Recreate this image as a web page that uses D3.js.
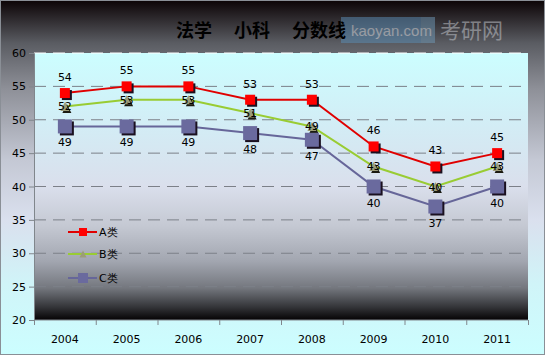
<!DOCTYPE html>
<html>
<head>
<meta charset="utf-8">
<script src="https://cdn.jsdelivr.net/npm/d3@7"></script>
<style>
  body { margin: 0; padding: 0; }
  svg { display: block; }
  text { font-family: "DejaVu Sans", Arial, sans-serif; }
</style>
</head>
<body>
<div class="chart"></div>
<script>
// data
let years = ['2004', '2005', '2006', '2007', '2008', '2009', '2010', '2011']
let seriesA = [54, 55, 55, 53, 53, 46, 43, 45]
let seriesB = [52, 53, 53, 51, 49, 43, 40, 43]
let seriesC = [49, 49, 49, 48, 47, 40, 37, 40]
let seriesNames = ['A类', 'B类', 'C类']
let yTicks = [20, 25, 30, 35, 40, 45, 50, 55, 60]

var W = 545, H = 355
var margin = { top: 53, right: 17, bottom: 35, left: 34 }
var width = W - margin.left - margin.right
var height = H - margin.top - margin.bottom

let root = d3.select('.chart')
    .append('svg')
    .attr('width', W)
    .attr('height', H)

let defs = root.append('defs')

// outer background: dark at top, light cyan at bottom
let bg = defs.append('linearGradient').attr('id', 'bgGrad')
    .attr('x1', 0).attr('y1', 0).attr('x2', 0).attr('y2', 1)
;[[0, '#0c0406'], [0.12, '#5a5c62'], [0.25, '#8e9098'], [0.45, '#c4c8d4'],
  [0.62, '#dae0ee'], [0.8, '#d0f4f8'], [1, '#ccfeff']].forEach(s => {
    bg.append('stop').attr('offset', s[0]).attr('stop-color', s[1])
})

// plot area: light cyan at top, black at bottom
let pg = defs.append('linearGradient').attr('id', 'plotGrad')
    .attr('x1', 0).attr('y1', 0).attr('x2', 0).attr('y2', 1)
;[[0, '#ccfeff'], [0.25, '#d2eef6'], [0.5, '#dadfec'], [0.65, '#c4c8d2'],
  [0.78, '#a2a6b0'], [0.88, '#74777e'], [0.95, '#35363a'], [1, '#050304']].forEach(s => {
    pg.append('stop').attr('offset', s[0]).attr('stop-color', s[1])
})

root.append('rect')
    .attr('x', 0.5).attr('y', 0.5)
    .attr('width', W - 1).attr('height', H - 1)
    .attr('fill', 'url(#bgGrad)')
    .attr('stroke', '#8a8f96')

// watermark (drawn under the title, as in the picture)
let wm = root.append('g').attr('opacity', 0.5)
wm.append('rect').attr('x', 341).attr('y', 17).attr('width', 80).attr('height', 26).attr('fill', '#5b8fb8')
wm.append('rect').attr('x', 421).attr('y', 17).attr('width', 14).attr('height', 26).attr('fill', '#6f9ab8')
wm.append('text').attr('x', 351).attr('y', 36)
    .style('font-family', 'Arial, "Liberation Sans", sans-serif')
    .style('font-size', '15px').attr('fill', '#e8f0f8')
    .text('kaoyan.com')
wm.append('text').attr('x', 440).attr('y', 38)
    .style('font-family', '"Noto Sans CJK SC", sans-serif')
    .style('font-size', '21px').attr('fill', '#c8ccd2')
    .text('考研网')

// title
root.append('text')
    .attr('x', 261).attr('y', 37)
    .attr('text-anchor', 'middle')
    .attr('xml:space', 'preserve')
    .style('font-family', '"Noto Sans CJK SC", sans-serif')
    .style('font-size', '18px')
    .style('font-weight', 'bold')
    .attr('fill', '#000')
    .text('法学　 小科　 分数线')

let svg = root.append('g')
    .attr('transform', `translate(${margin.left},${margin.top})`)

svg.append('rect')
    .attr('width', width).attr('height', height)
    .attr('fill', 'url(#plotGrad)')

var yScale = d3.scaleLinear()
    .domain([20, 60])
    .range([height, 0])

var xScale = d3.scaleBand()
    .domain(years)
    .range([0, width])

// dashed grid lines
svg.selectAll('.grid')
    .data(yTicks.filter(d => d > 20))
    .enter()
    .append('line')
    .attr('x1', 0).attr('x2', width)
    .attr('y1', d => yScale(d)).attr('y2', d => yScale(d))
    .attr('stroke', d => d === 60 ? '#ffffff' : '#7c8088')
    .attr('stroke-width', 1)
    .attr('stroke-dasharray', '12,7')

// y axis
let yAxis = d3.axisLeft(yScale).tickValues(yTicks).tickSize(5).tickPadding(3)
let gy = svg.append('g').call(yAxis)
gy.select('.domain').attr('stroke', '#80868c')
gy.selectAll('line').attr('stroke', '#80868c')
gy.selectAll('text').style('font-size', '11px').attr('fill', '#000')

// x axis with ticks at band boundaries
let gx = svg.append('g').attr('transform', `translate(0,${height})`)
gx.append('line').attr('x1', 0).attr('x2', width).attr('stroke', '#80868c')
gx.selectAll('.tk')
    .data(years.concat(['end']))
    .enter()
    .append('line')
    .attr('x1', (d, i) => i * xScale.bandwidth() + 0.5)
    .attr('x2', (d, i) => i * xScale.bandwidth() + 0.5)
    .attr('y1', 0).attr('y2', 5)
    .attr('stroke', '#80868c')
gx.selectAll('.lbl')
    .data(years)
    .enter()
    .append('text')
    .attr('x', d => xScale(d) + xScale.bandwidth() / 2)
    .attr('y', 23)
    .attr('text-anchor', 'middle')
    .style('font-size', '11px')
    .attr('fill', '#000')
    .text(d => d)

let cx = d => xScale(d) + xScale.bandwidth() / 2

let series = [
    { name: seriesNames[0], values: seriesA, color: '#e00000', marker: 'square', size: 10, fill: '#ff0000', label: -12 },
    { name: seriesNames[1], values: seriesB, color: '#99cc33', marker: 'triangle', size: 9, fill: '#9c9c78', label: 4 },
    { name: seriesNames[2], values: seriesC, color: '#666699', marker: 'square', size: 14, fill: '#6a6a9e', label: 20 }
]

let line = d3.line()
    .x((d, i) => cx(years[i]))
    .y(d => yScale(d))

function drawMarker(g, s, x, y) {
    let h = s.size / 2
    if (s.marker === 'square') {
        g.append('rect').attr('x', x - h + 2).attr('y', y - h + 2)
            .attr('width', s.size).attr('height', s.size).attr('fill', '#1a1020')
        g.append('rect').attr('x', x - h).attr('y', y - h)
            .attr('width', s.size).attr('height', s.size).attr('fill', s.fill)
    } else {
        let tri = (ox, oy) => `M${x + ox},${y - h + oy}L${x + h + ox},${y + h + oy}L${x - h + ox},${y + h + oy}Z`
        g.append('path').attr('d', tri(2, 2)).attr('fill', '#1a1a10')
        g.append('path').attr('d', tri(0, 0)).attr('fill', s.fill)
    }
}

series.forEach(s => {
    let g = svg.append('g')
    g.append('path')
        .datum(s.values)
        .attr('d', line)
        .attr('fill', 'none')
        .attr('stroke', s.color)
        .attr('stroke-width', 2)
    s.values.forEach((v, i) => drawMarker(g, s, cx(years[i]), yScale(v)))
})

// data labels
series.forEach(s => {
    svg.append('g').selectAll('text')
        .data(s.values)
        .enter()
        .append('text')
        .attr('x', (d, i) => cx(years[i]))
        .attr('y', d => yScale(d) + s.label)
        .attr('text-anchor', 'middle')
        .style('font-size', '11px')
        .attr('fill', '#000')
        .text(d => d)
})

// legend
let legend = svg.append('g').attr('transform', 'translate(34,179)')
series.forEach((s, i) => {
    let ly = [0, 22, 46][i]
    let g = legend.append('g')
    g.append('line').attr('x1', 0).attr('x2', 29).attr('y1', ly).attr('y2', ly)
        .attr('stroke', s.color).attr('stroke-width', 2)
    let ms = Object.assign({}, s, { size: i === 2 ? 10 : s.size - 2 })
    let h = ms.size / 2
    if (ms.marker === 'square') {
        g.append('rect').attr('x', 15 - h).attr('y', ly - h)
            .attr('width', ms.size).attr('height', ms.size).attr('fill', ms.fill)
    } else {
        g.append('path').attr('d', `M15,${ly - h}L${15 + h},${ly + h}L${15 - h},${ly + h}Z`).attr('fill', ms.fill)
    }
    g.append('text').attr('x', 31).attr('y', ly + 4)
        .style('font-size', '11px').attr('fill', '#000')
        .text(s.name)
})
</script>
</body>
</html>
